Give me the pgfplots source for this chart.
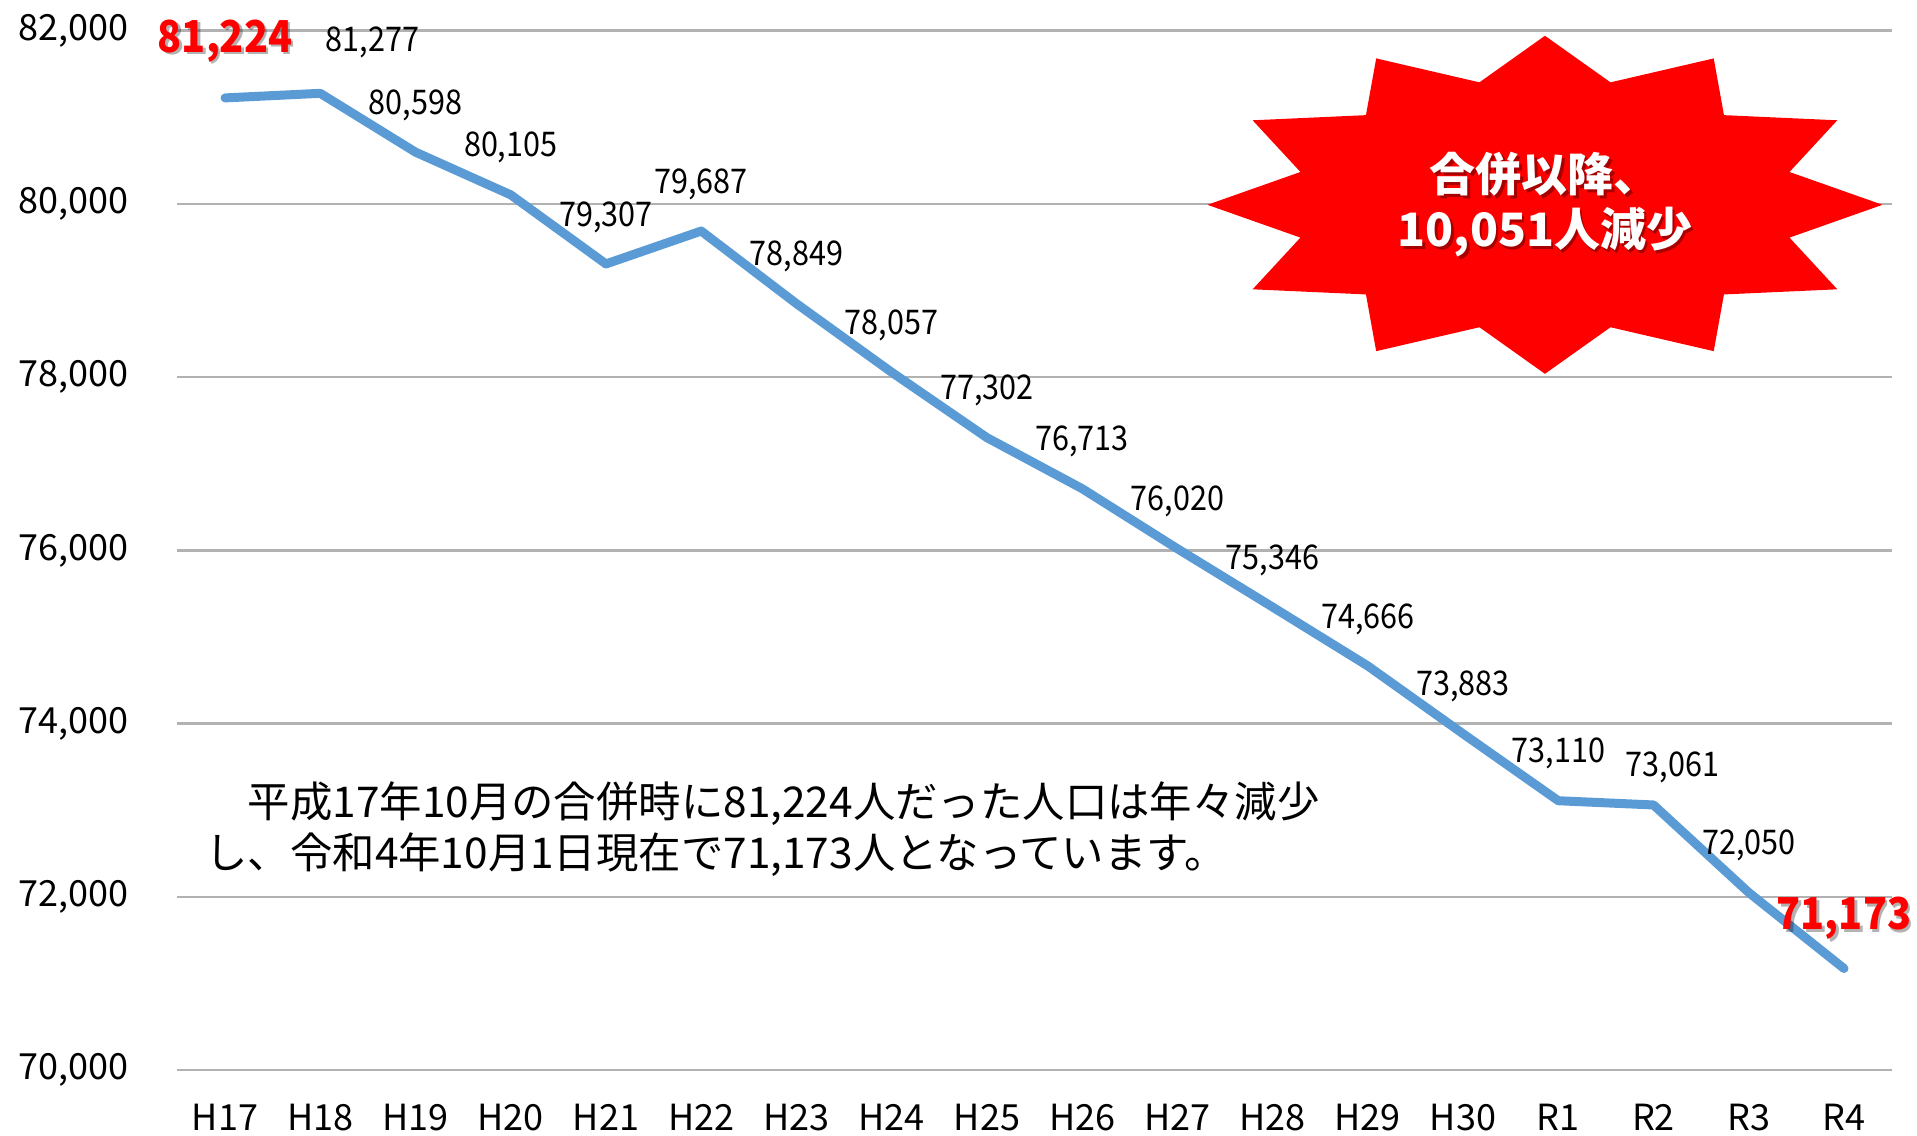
\documentclass[border=0pt]{standalone}
\usepackage{fontspec}
\setmainfont{Noto Sans CJK JP}
\newfontfamily\numfont[FakeStretch=0.9]{Noto Sans CJK JP}
\usepackage{pgfplots}
\usepackage{pgfplotstable}
\pgfplotsset{compat=1.18}
\definecolor{lineblue}{RGB}{91,155,213}
\definecolor{gridgray}{RGB}{178,178,178}
\definecolor{xred}{RGB}{255,0,0}

\pgfplotstableread{
x y
0 81224
1 81277
2 80598
3 80105
4 79307
5 79687
6 78849
7 78057
8 77302
9 76713
10 76020
11 75346
12 74666
13 73883
14 73110
15 73061
16 72050
17 71173
}\pop

\pgfplotstableread{
x y
2 80598
3 80105
4 79307
5 79687
6 78849
7 78057
8 77302
9 76713
10 76020
11 75346
12 74666
13 73883
14 73110
16 72050
}\labs

\pgfplotsset{
  lbl/.style={only marks, mark=*, mark size=0pt, mark options={draw opacity=0, fill opacity=0},
    nodes near coords, point meta=y},
}

\begin{document}
\begin{tikzpicture}
\begin{axis}[
  scale only axis, width=857pt, height=519.65pt,
  xmin=-0.5, xmax=17.5, ymin=70000, ymax=82000,
  ytick={70000,72000,74000,76000,78000,80000,82000},
  xtick={0,...,17},
  xticklabels={H17,H18,H19,H20,H21,H22,H23,H24,H25,H26,H27,H28,H29,H30,R1,R2,R3,R4},
  axis line style={draw=none}, tick style={draw=none},
  ymajorgrids, grid style={gridgray, line width=1.2pt},
  scaled y ticks=false, clip=false,
  /pgf/number format/assume math mode=true,
  /pgf/number format/fixed,
  /pgf/number format/precision=0,
  /pgf/number format/1000 sep={,},
  yticklabel style={anchor=east, inner sep=0pt, xshift=-24.5pt, font=\fontsize{18}{18}\selectfont},
  xticklabel style={anchor=center, inner sep=0pt, yshift=-23.5pt, font=\fontsize{18}{18}\selectfont},
]
\addplot[lineblue, line width=4.5pt, line cap=round, line join=round, mark=none] table[x=x,y=y]{\pop};

\addplot[lbl, every node near coord/.style={anchor=center, yshift=23.5pt, text=black, opacity=1, inner sep=0pt, font=\numfont\fontsize{17}{17}\selectfont}]
  table[x=x,y=y]{\labs};

\addplot[lbl, every node near coord/.style={anchor=center, xshift=26pt, yshift=25.4pt, text=black, opacity=1, inner sep=0pt, font=\numfont\fontsize{17}{17}\selectfont}]
  coordinates {(1,81277)};
\addplot[lbl, every node near coord/.style={anchor=center, xshift=9.5pt, yshift=19pt, text=black, opacity=1, inner sep=0pt, font=\numfont\fontsize{17}{17}\selectfont}]
  coordinates {(15,73061)};

% red labels with shadow
\addplot[lbl, every node near coord/.style={anchor=center, xshift=1.2pt, yshift=27.3pt, text=black, opacity=0.3, inner sep=0pt, font=\numfont\bfseries\fontsize{22}{22}\selectfont}]
  coordinates {(0,81224)};
\addplot[lbl, every node near coord/.style={anchor=center, yshift=28.5pt, text=xred, opacity=1, inner sep=0pt, font=\numfont\bfseries\fontsize{22}{22}\selectfont}]
  coordinates {(0,81224)};
\addplot[lbl, every node near coord/.style={anchor=center, xshift=1.2pt, yshift=23.8pt, text=black, opacity=0.3, inner sep=0pt, font=\numfont\bfseries\fontsize{22}{22}\selectfont}]
  coordinates {(17,71173)};
\addplot[lbl, every node near coord/.style={anchor=center, yshift=25pt, text=xred, opacity=1, inner sep=0pt, font=\numfont\bfseries\fontsize{22}{22}\selectfont}]
  coordinates {(17,71173)};

\node[anchor=west, inner sep=0pt, align=left, xshift=13.8pt, yshift=-399.4pt,
  font=\fontsize{21.2}{25.5}\selectfont] at (rel axis cs:0,1)
  {　平成17年10月の合併時に81,224人だった人口は年々減少\\し、令和4年10月1日現在で71,173人となっています。};

\coordinate (sc) at (axis cs:13.86,79990);
\coordinate (bl) at (rel axis cs:0,0);
\coordinate (tr) at (rel axis cs:1,1);
\end{axis}

\fill[xred, shift={(sc)}, x=1pt, y=1pt]
  plot[samples at={0,15,...,345}, variable=\t]
  ({ifthenelse(mod(\t,30)<1,1,0.75)*168.75*cos(\t)}, {ifthenelse(mod(\t,30)<1,1,0.75)*84.5*sin(\t)}) -- cycle;
\node[text=black, opacity=0.35, font=\bfseries\fontsize{23}{27.5}\selectfont, align=center, xshift=1.2pt, yshift=-1.2pt] at (sc) {合併以降、\\10,051人減少};
\node[text=white, font=\bfseries\fontsize{23}{27.5}\selectfont, align=center] at (sc) {合併以降、\\10,051人減少};

\pgfresetboundingbox
\path[use as bounding box] ([xshift=-88.7pt,yshift=-32.5pt]bl) rectangle ([xshift=12.7pt,yshift=15.35pt]tr);
\end{tikzpicture}
\end{document}
